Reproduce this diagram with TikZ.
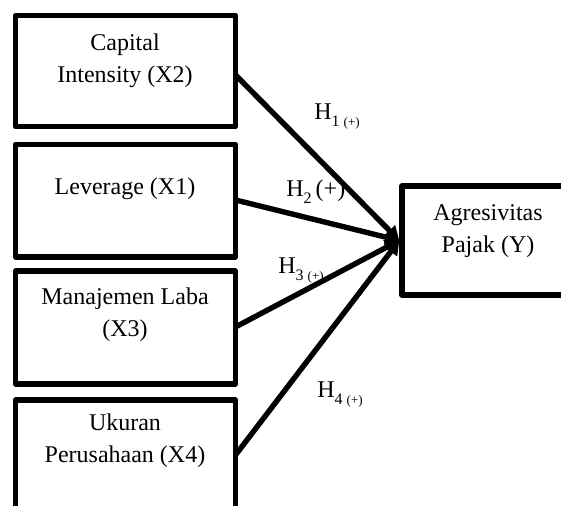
\documentclass[tikz,border=0pt]{standalone}
\usepackage{fontspec}
\setmainfont{Liberation Serif}
\usetikzlibrary{arrows.meta}
\newcommand{\hsub}[1]{\raisebox{-3.2pt}{\fontsize{8}{8}\selectfont #1}}
\newcommand{\hplus}{\raisebox{-3.2pt}{\fontsize{6.5}{6.5}\selectfont (+)}}
\begin{document}
\begin{tikzpicture}[x=0.5pt,y=-0.5pt,
  box/.style={draw=black,line width=2.7pt,line join=round,rectangle,inner sep=0pt},
  lbl/.style={font=\fontsize{12}{16}\selectfont,align=center,inner sep=0pt},
  hyp/.style={font=\fontsize{12}{16}\selectfont,inner sep=0pt,anchor=base west},
  conn/.style={line width=2.7pt,-{Triangle[length=7pt,width=7.5pt]}}]
\useasboundingbox (0,0) rectangle (561,506);
% boxes
\node[box,minimum width=110pt,minimum height=55.5pt] (b1) at (125.5,71) {};
\node[box,minimum width=110pt,minimum height=56.25pt] (b2) at (125.5,200.75) {};
\node[box,minimum width=110pt,minimum height=56.5pt] (b3) at (125.5,327.5) {};
\node[box,minimum width=110pt,minimum height=56.5pt] (b4) at (125.5,456.5) {};
\node[box,minimum width=89pt,minimum height=54.5pt] (yb) at (491,240.5) {};
% texts
\node[lbl] (t1) at (125,61) {Capital\\Intensity (X2)};
\node[lbl] (t2) at (125,189) {Leverage (X1)};
\node[lbl] (t3) at (125,315) {Manajemen Laba\\(X3)};
\node[lbl] (t4) at (125,441) {Ukuran\\Perusahaan (X4)};
\node[lbl] (ty) at (488,231) {Agresivitas\\Pajak (Y)};
% start points
\coordinate (s1) at (235.5,75);
\coordinate (s2) at (235.5,200);
\coordinate (s3) at (235.5,327);
\coordinate (s4) at (235.5,455);
\draw[conn] (s1) -- (yb.west);
\draw[conn] (s2) -- (yb.west);
\draw[conn] (s3) -- (yb.west);
\draw[conn] (s4) -- (yb.west);
% hypothesis labels
\node[hyp] (h1) at (314,120) {H\hsub{1}\,\hplus};
\node[hyp] (h2) at (286,197) {H\hsub{2}\,(+)};
\node[hyp] (h3) at (278,274) {H\hsub{3}\,\hplus};
\node[hyp] (h4) at (317,398) {H\hsub{4}\,\hplus};
\end{tikzpicture}
\end{document}
